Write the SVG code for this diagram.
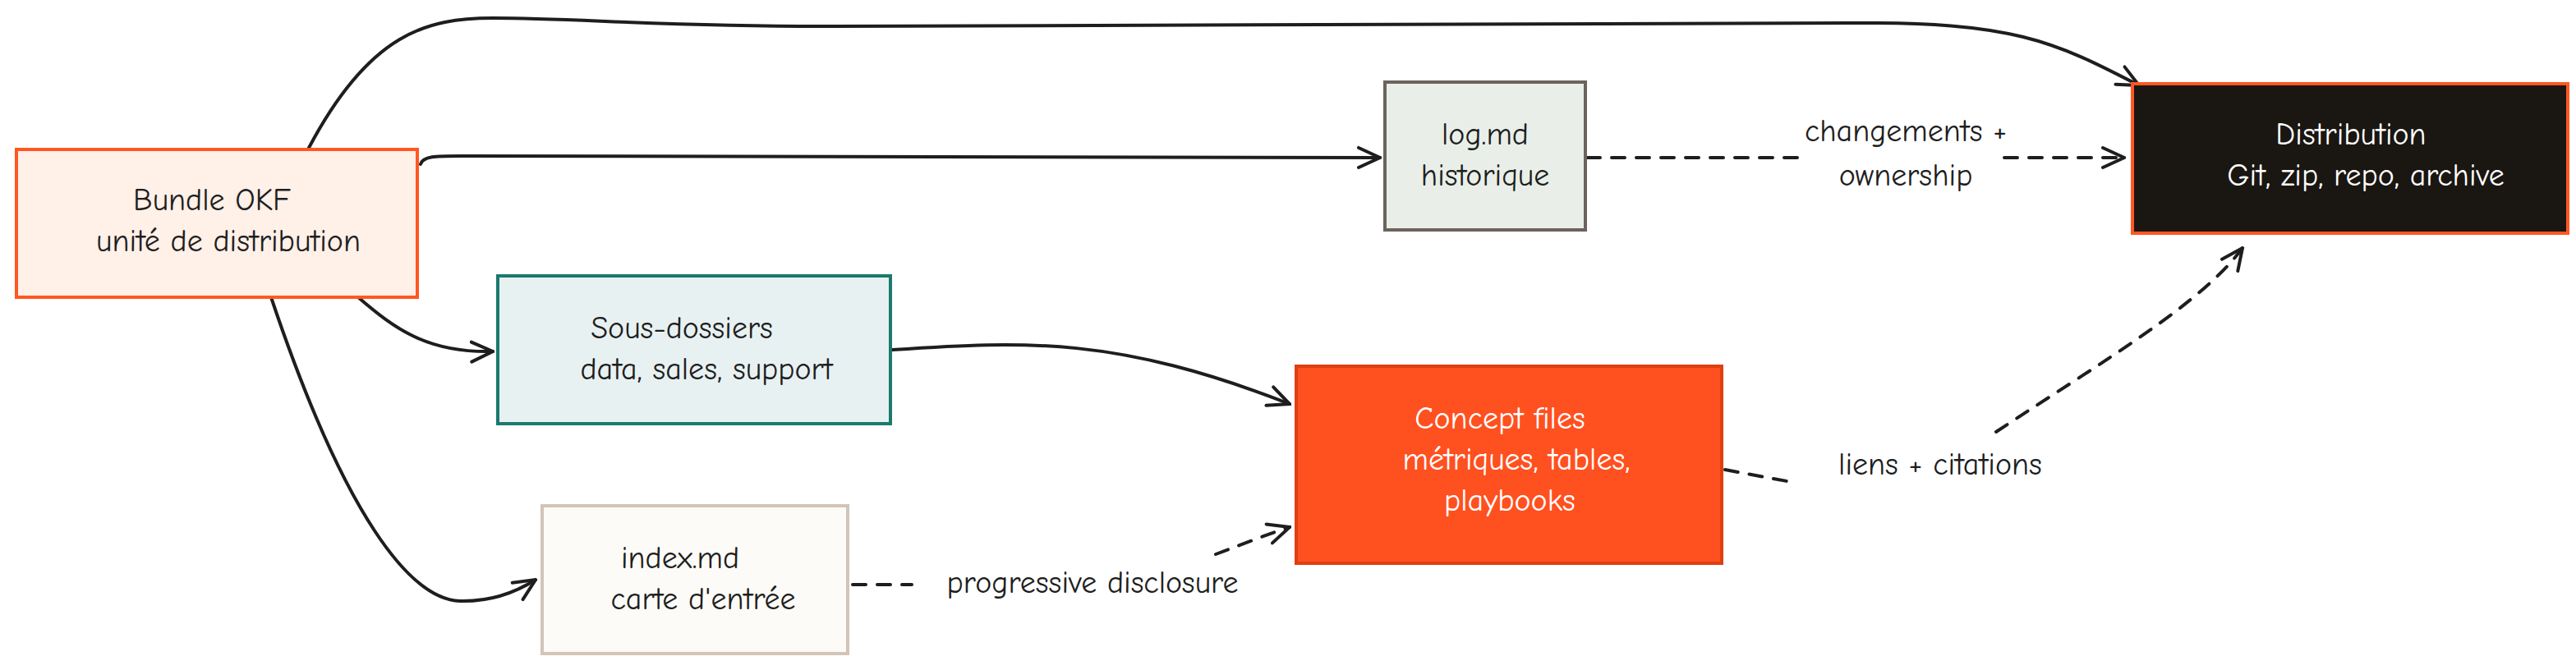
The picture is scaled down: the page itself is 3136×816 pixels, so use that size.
<svg xmlns="http://www.w3.org/2000/svg" width="3136" height="816" viewBox="0 0 3136 816">
<style>
text{font-family:"Comic Neue","Liberation Sans",sans-serif;font-size:38px;fill:#1e1e1e;text-anchor:middle}
.w{fill:#ffffff}
.e{fill:none;stroke:#1e1e1e;stroke-width:4;stroke-linecap:round}
.d{stroke-dasharray:16 14}
.n{stroke-width:4}
</style>
<defs>
<marker id="ah" viewBox="0 0 30 30" refX="28" refY="15" markerWidth="30" markerHeight="30" orient="auto-start-reverse" markerUnits="userSpaceOnUse">
<path d="M2 3 L28 15 L2 27" fill="none" stroke="#1e1e1e" stroke-width="4" stroke-linecap="round"/>
</marker>
</defs>
<rect width="3136" height="816" fill="#ffffff"/>
<g id="connectors">
<path class="e" d="M376 180 C450 40 520 22 600 22 C700 22 800 32 1000 32 L2250 28 C2450 26 2500 50 2604 104" marker-end="url(#ah)"/>
<path class="e" d="M512 200 C515 190 530 190 560 190 L1680 192" marker-end="url(#ah)"/>
<path class="e" d="M436 362 C480 400 520 430 600 428" marker-end="url(#ah)"/>
<path class="e" d="M330 362 C420 630 500 730 560 732 C600 733 630 720 652 706" marker-end="url(#ah)"/>
<path class="e" d="M1086 426 C1250 415 1360 410 1570 492" marker-end="url(#ah)"/>
<path class="e d" d="M1038 712 L1110 712 M1480 675 C1520 660 1545 650 1570 642" marker-end="url(#ah)"/>
<path class="e d" d="M1932 192 L2196 192 M2440 192 L2586 192" marker-end="url(#ah)"/>
<path class="e d" d="M2100 572 L2186 588 M2430 526 C2560 440 2680 370 2730 302" marker-end="url(#ah)"/>
<text x="1330" y="722">progressive disclosure</text>
<text x="2320" y="172">changements +</text>
<text x="2320" y="226">ownership</text>
<text x="2362" y="578">liens + citations</text>
</g>
<g id="bundle">
<rect x="20" y="182" width="488" height="180" fill="#fff0e8" stroke="#ff5722" class="n"/>
<text x="258" y="256">Bundle OKF</text>
<text x="278" y="306">unité de distribution</text>
</g>
<g id="log">
<rect x="1686" y="100" width="244" height="180" fill="#e9efe8" stroke="#6b635c" class="n"/>
<text x="1808" y="176">log.md</text>
<text x="1808" y="226">historique</text>
</g>
<g id="distribution">
<rect x="2596" y="102" width="530" height="182" fill="#1a1612" stroke="#ff5722" class="n"/>
<text class="w" x="2862" y="176">Distribution</text>
<text class="w" x="2880" y="226">Git, zip, repo, archive</text>
</g>
<g id="sous">
<rect x="606" y="336" width="478" height="180" fill="#e8f1f2" stroke="#1a7a6e" class="n"/>
<text x="830" y="412">Sous-dossiers</text>
<text x="860" y="462">data, sales, support</text>
</g>
<g id="concept">
<rect x="1578" y="446" width="518" height="240" fill="#ff5020" stroke="#e04010" class="n"/>
<text class="w" x="1826" y="522">Concept files</text>
<text class="w" x="1846" y="572">métriques, tables,</text>
<text class="w" x="1838" y="622">playbooks</text>
</g>
<g id="index">
<rect x="660" y="616" width="372" height="180" fill="#fdfbf7" stroke="#d2c5b8" class="n"/>
<text x="828" y="692">index.md</text>
<text x="856" y="742">carte d'entrée</text>
</g>
</svg>
